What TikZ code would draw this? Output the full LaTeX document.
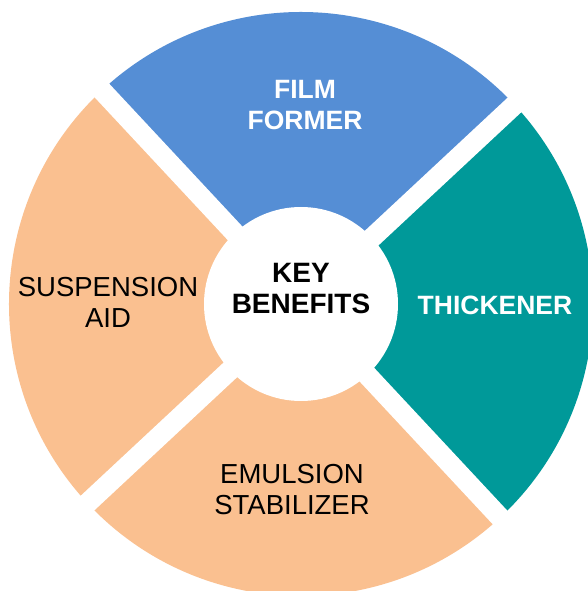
\documentclass[tikz,border=0pt]{standalone}
\usepackage{fontspec}
\setmainfont{Liberation Sans}
\usepackage{tikz}
\definecolor{filmblue}{RGB}{85,142,213}
\definecolor{thickteal}{RGB}{0,153,153}
\definecolor{peach}{RGB}{250,192,144}
\tikzstyle{lighttext} = [text=white, font=\fontsize{26.5}{31}\selectfont\bfseries, align=center, inner sep=0pt]
\tikzstyle{darktext} = [text=black, font=\fontsize{27.5}{31}\selectfont, align=center, inner sep=0pt]
\tikzstyle{centertext} = [text=black, font=\fontsize{28}{31}\selectfont\bfseries, align=center, inner sep=0pt]
\tikzstyle{gap} = [white, line width=20pt]

\begin{document}
\begin{tikzpicture}[x=1pt, y=1pt]
\clip (-301,-287) rectangle (287,304);
\fill[white] (-301,-287) rectangle (287,304);
\fill[filmblue] (0,0) -- (43:292) arc[start angle=43, end angle=133, radius=292] -- cycle;
\fill[peach] (0,0) -- (133:292) arc[start angle=133, end angle=223, radius=292] -- cycle;
\fill[peach] (0,0) -- (223:292) arc[start angle=223, end angle=313, radius=292] -- cycle;
\fill[thickteal] (0,0) -- (313:292) arc[start angle=313, end angle=403, radius=292] -- cycle;
\foreach \a in {43,133}
  \draw[gap] (\a:320) -- ({\a+180}:320);
\fill[white] (0,0) circle[radius=97];

\node (film)[lighttext] at (4,199) {FILM\\FORMER};
\node (key)[centertext] at (0,15) {KEY\\BENEFITS};
\node (thick)[lighttext] at (194,-1) {THICKENER};
\node (susp)[darktext] at (-193,2) {SUSPENSION\\AID};
\node (emul)[darktext] at (-9,-186) {EMULSION\\STABILIZER};
\end{tikzpicture}
\end{document}
